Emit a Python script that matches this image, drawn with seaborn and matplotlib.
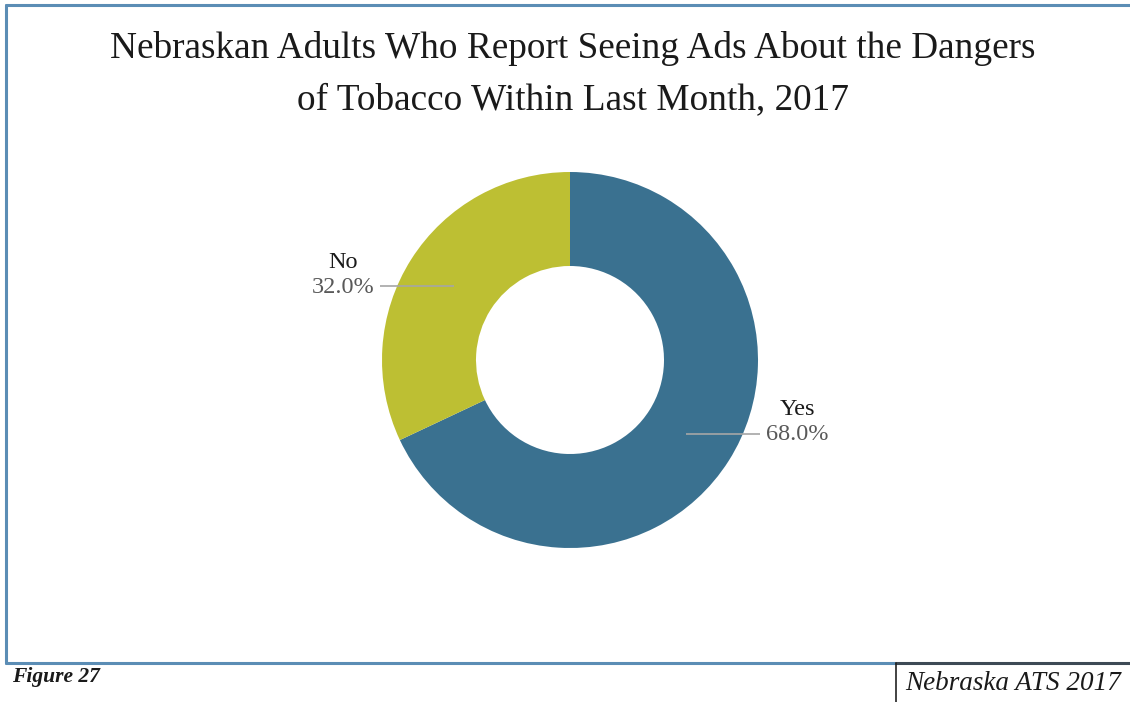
import numpy as np
import matplotlib
matplotlib.use("Agg")
import matplotlib.pyplot as plt
from matplotlib.lines import Line2D
import seaborn as sns

# Survey responses
categories = ["Yes", "No"]
shares = [68.0, 32.0]
colors = ["#3a7190", "#bdbf33"]

title_lines = ["Nebraskan Adults Who Report Seeing Ads About the Dangers",
               "of Tobacco Within Last Month, 2017"]
figure_label = "Figure 27"
source_label = "Nebraska ATS 2017"

sns.set_theme(style="white")
plt.rcParams["font.family"] = ["Liberation Serif", "DejaVu Serif"]

W, H = 1130, 702
fig = plt.figure(figsize=(W / 100, H / 100), dpi=100)
fig.patch.set_facecolor("white")

# Full-figure axes in pixel units (y up)
ax = fig.add_axes([0, 0, 1, 1])
ax.set_xlim(0, W)
ax.set_ylim(0, H)
ax.set_aspect("equal")
ax.axis("off")

cx, cy, R = 570, H - 360, 188
ring = 0.5
wedges, _ = ax.pie(shares, colors=colors, startangle=90, counterclock=False,
                   center=(cx, cy), radius=R,
                   wedgeprops=dict(width=R * ring, linewidth=0))
ax.set_xlim(0, W)
ax.set_ylim(0, H)

renderer = fig.canvas.get_renderer()

# Leader lines and labels from each wedge's mid angle
mid_r = R * 0.73
for wedge, name, val in zip(wedges, categories, shares):
    ang = np.deg2rad((wedge.theta1 + wedge.theta2) / 2)
    px = cx + mid_r * np.cos(ang)
    py = cy + mid_r * np.sin(ang)
    side = 1 if np.cos(ang) >= 0 else -1
    ex = px + side * 74
    ax.plot([px, ex], [py, py], color="#a6a6a6", lw=1.2, solid_capstyle="butt")
    ha = "left" if side > 0 else "right"
    tx = ex + side * 6
    pct = ax.text(tx, py - 1, f"{val:.1f}%", ha=ha, va="center", fontsize=17.5,
                  color="#595959")
    bb = pct.get_window_extent(renderer)
    name_x = (bb.x0 + bb.x1) / 2
    ax.text(name_x, py + 24, name, ha="center", va="center", fontsize=17.5,
            color="#1a1a1a")

# Titles
ax.text(W / 2 + 8, H - 48, title_lines[0], ha="center", va="center",
        fontsize=26.8, color="#1a1a1a")
ax.text(W / 2 + 8, H - 100, title_lines[1], ha="center", va="center",
        fontsize=26.8, color="#1a1a1a")

# Outer frame
frame_c = "#5b8db5"
ax.add_line(Line2D([6, 6], [H - 5, H - 663], color=frame_c, lw=2.2))
ax.add_line(Line2D([6, W], [H - 5, H - 5], color=frame_c, lw=2.2))
ax.add_line(Line2D([6, 896], [H - 663, H - 663], color=frame_c, lw=2.2))
ax.add_line(Line2D([896, W], [H - 663, H - 663], color="#3d4a55", lw=2.2))
ax.add_line(Line2D([896, 896], [H - 663, 0], color="#222222", lw=1.2))

ax.text(12, H - 677, figure_label, ha="left", va="center", fontsize=15.5,
        fontweight="bold", style="italic", color="#1a1a1a")
ax.text(905, H - 684, source_label, ha="left", va="center", fontsize=19.5,
        style="italic", color="#1a1a1a")

fig.savefig("out.png", dpi=100, facecolor="white")
